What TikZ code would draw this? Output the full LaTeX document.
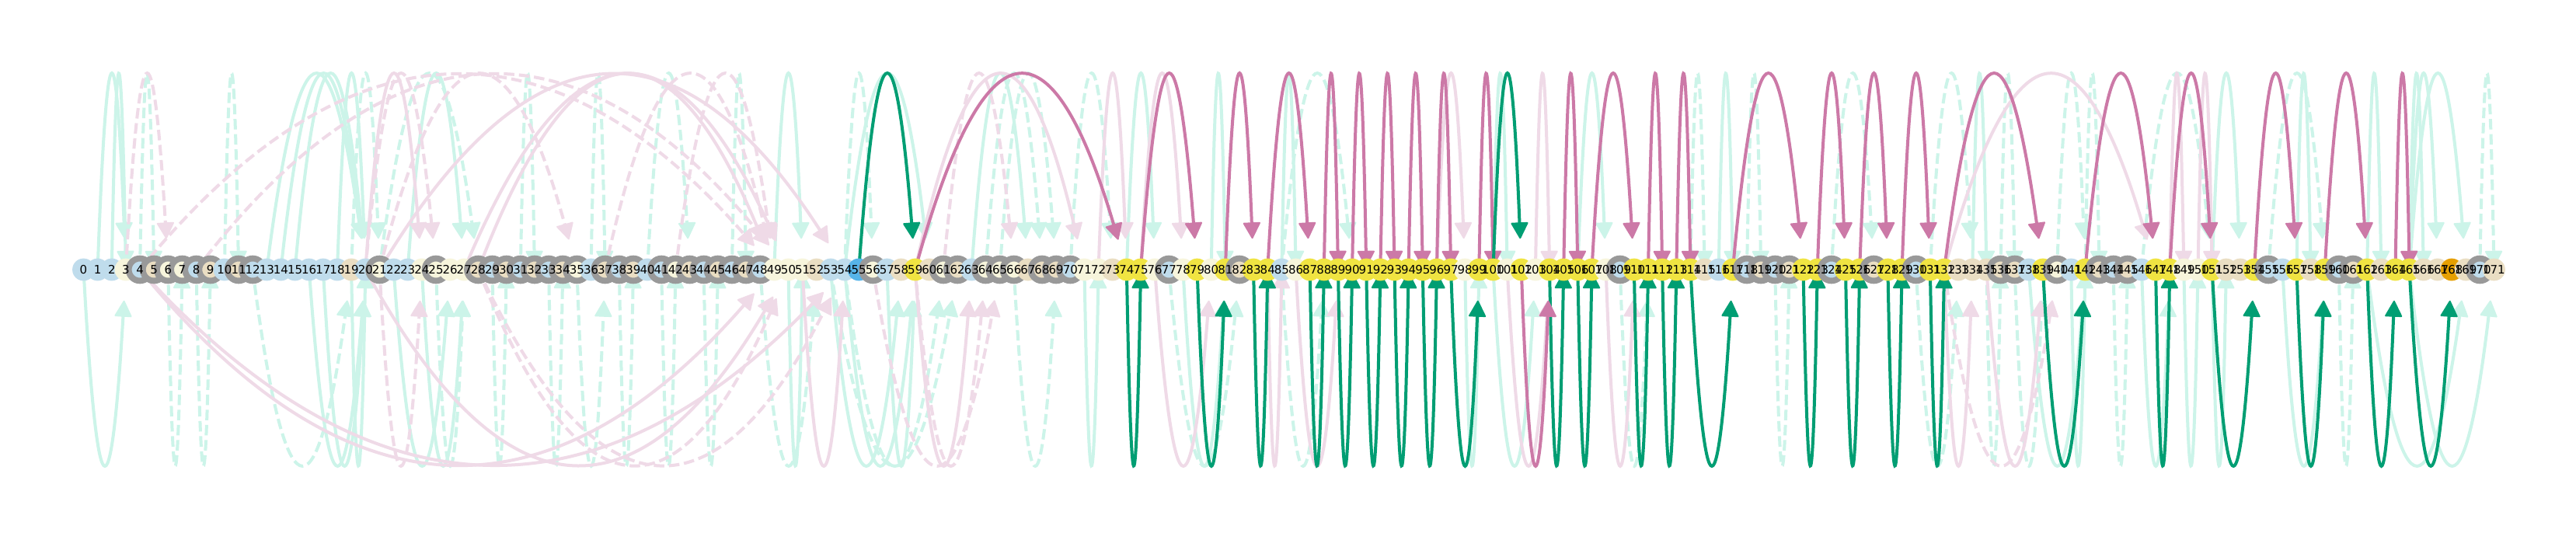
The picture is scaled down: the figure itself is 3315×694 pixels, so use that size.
\documentclass[tikz,border=0pt]{standalone}
\usepackage{fontspec}
\setmainfont{DejaVu Sans}
\usetikzlibrary{calc,arrows.meta,backgrounds}
\definecolor{cblue}{HTML}{BFDCEC}
\definecolor{ccream}{HTML}{F7F5DC}
\definecolor{ctan}{HTML}{EADEC3}
\definecolor{cyel}{HTML}{F0E442}
\definecolor{corg}{HTML}{E69F00}
\definecolor{csky}{HTML}{56B4E9}
\definecolor{cring}{HTML}{999999}
\definecolor{lgreen}{HTML}{CCF4E9}
\definecolor{lpink}{HTML}{EFDAE7}
\definecolor{sgreen}{HTML}{009E73}
\definecolor{spurple}{HTML}{CC79A7}
\tikzset{
  nd/.style={circle,minimum size=28.8pt,inner sep=0pt,outer sep=0pt},
  nb/.style={nd,fill=cblue}, nc/.style={nd,fill=ccream}, nt/.style={nd,fill=ctan},
  ny/.style={nd,fill=cyel}, no/.style={nd,fill=corg}, ns/.style={nd,fill=csky},
  nB/.style={nb,draw=cring,line width=7.8pt},
  nC/.style={nc,draw=cring,line width=7.8pt},
  nT/.style={nt,draw=cring,line width=7.8pt},
  lab/.style={inner sep=0pt,outer sep=0pt,font=\fontsize{15pt}{15pt}\selectfont,text=black},
  arcbase/.style={line width=4pt,-{Triangle[length=22pt,width=23pt,line width=2pt,round]}},
  dsh/.style={dash pattern=on 13.5pt off 6pt},
  aG/.style={arcbase,draw=lgreen},
  ag/.style={arcbase,draw=lgreen,dsh},
  aP/.style={arcbase,draw=lpink},
  ap/.style={arcbase,draw=lpink,dsh},
  aS/.style={arcbase,draw=sgreen},
  aV/.style={arcbase,draw=spurple}
}
\newcommand{\carc}[4]{%
  \pgfmathsetmacro{\cs}{(#2-#1)*0.01814}%
  \pgfmathsetmacro{\cu}{(#2-#1)==1 ? 0.0034 : 0.04/sqrt(\cs*\cs+(1-0.04/sqrt(\cs*\cs+1))^2)}%
  \pgfmathsetmacro{\cS}{(#2-#1)*18.14}%
  \pgfmathsetmacro{\ct}{1-\cu}%
  \pgfmathsetmacro{\cex}{-\cS*\cu}%
  \pgfmathsetmacro{\cey}{-#3*1000*\cu*\ct}%
  \pgfmathsetmacro{\cax}{\ct*\cS/3}%
  \pgfmathsetmacro{\cay}{-#3*1000/3*\ct}%
  \pgfmathsetmacro{\cby}{-#3*1000/3*\ct*(1-2*\cu)}%
  \draw[#4] (n#1.center) .. controls +(\cax,\cay) and +(-\cax,\cby) .. ($(n#2.center)+(\cex,\cey)$);%
}
\begin{document}
\begin{tikzpicture}[x=1pt,y=-1pt]
\useasboundingbox (0,0) rectangle (3315,694);
\foreach \c [count=\i from 0] in {
b,b,b,c,B,T,C,C,B,T,
b,T,B,b,b,b,b,b,b,t,
b,C,b,b,c,C,c,c,T,B,
T,B,T,B,T,C,b,T,B,T,
b,B,C,T,B,T,B,T,B,c,
c,c,t,b,b,s,C,b,t,y,
t,C,T,b,C,C,C,t,T,T,
B,c,c,t,y,y,c,B,c,y,
c,y,T,y,y,b,c,y,y,y,
y,y,y,y,y,y,y,y,c,y,
y,c,y,c,y,y,y,y,c,B,
y,y,y,y,y,t,b,y,B,T,
B,T,y,y,B,y,y,T,y,y,
B,y,y,t,t,t,T,T,b,y,
C,b,y,T,B,T,b,y,y,c,
c,y,t,t,y,B,b,y,t,y,
B,T,y,t,y,y,t,t,o,t,
B,t}{
  \pgfmathsetmacro{\xx}{107.5+18.14*\i}
  \node[n\c] (n\i) at (\xx,347) {};
}
\foreach \i in {0,...,171}{
  \pgfmathsetmacro{\xx}{107.5+18.14*\i}
  \node[lab] (t\i) at (\xx,347) {\i};
}
\begin{pgfonlayer}{background}
\fill[white] (0,0) rectangle (3315,694);
% light arcs above
\foreach \a/\b in {1/3,2/3,13/20,14/20,15/20,18/20,23/27,49/51,54/60,63/67,74/76,80/81,85/86,100/101,106/108,116/117,134/135,151/153,157/158,162/163,165/166,165/167,165/169}{\carc{\a}{\b}{1}{aG}}
\foreach \a/\b in {4/5,10/11,19/21,21/28,31/32,36/37,40/43,46/47,54/56,64/68,65/69,70/73,85/90,114/115,118/119,124/127,131/134,136/137,140/142,142/143,146/151,155/159,170/171}{\carc{\a}{\b}{1}{ag}}
\foreach \a/\b in {20/24,21/54,27/50,28/49,59/71,72/74,75/78,96/98,103/104,132/147,148/149,150/151}{\carc{\a}{\b}{1}{aP}}
\foreach \a/\b in {3/6,4/49,8/50,20/25,21/35,37/49,42/49,61/66}{\carc{\a}{\b}{1}{ap}}
% light arcs below
\foreach \a/\b in {0/3,16/20,17/20,19/20,22/26,24/27,50/51,53/58,54/59,57/59,71/72,78/81,98/99,100/103,138/142,141/142,146/148,149/150,151/152,156/159,162/169,165/171}{\carc{\a}{\b}{-1}{aG}}
\foreach \a/\b in {6/7,8/9,12/19,25/27,29/30,33/34,35/37,38/39,41/42,44/45,48/52,54/61,53/62,66/69,77/82,85/88,109/111,120/121,130/133,135/136,137/139,144/145,160/161}{\carc{\a}{\b}{-1}{ag}}
\foreach \a/\b in {4/49,4/54,20/50,51/54,59/63,76/80,84/85,86/89,101/104,108/110,132/134,135/139}{\carc{\a}{\b}{-1}{aP}}
\foreach \a/\b in {21/24,28/50,28/54,56/65,59/64,132/140}{\carc{\a}{\b}{-1}{ap}}
% strong arcs
\foreach \a/\b in {59/74,75/79,81/83,84/87,88/89,90/91,92/93,94/95,96/97,99/100,105/106,107/110,111/112,113/114,117/122,123/125,126/128,129/131,132/139,142/147,148/151,154/157,159/162,164/165}{\carc{\a}{\b}{1}{aV}}
\foreach \a/\b in {55/59,100/102}{\carc{\a}{\b}{1}{aS}}
\foreach \a/\b in {74/75,79/81,83/84,87/88,89/90,91/92,93/94,95/96,97/99,104/105,106/107,110/111,112/113,114/117,122/123,125/126,128/129,131/132,139/142,147/148,151/154,157/159,162/164,165/168}{\carc{\a}{\b}{-1}{aS}}
\carc{102}{104}{-1}{aV}
\end{pgfonlayer}
\end{tikzpicture}
\end{document}
